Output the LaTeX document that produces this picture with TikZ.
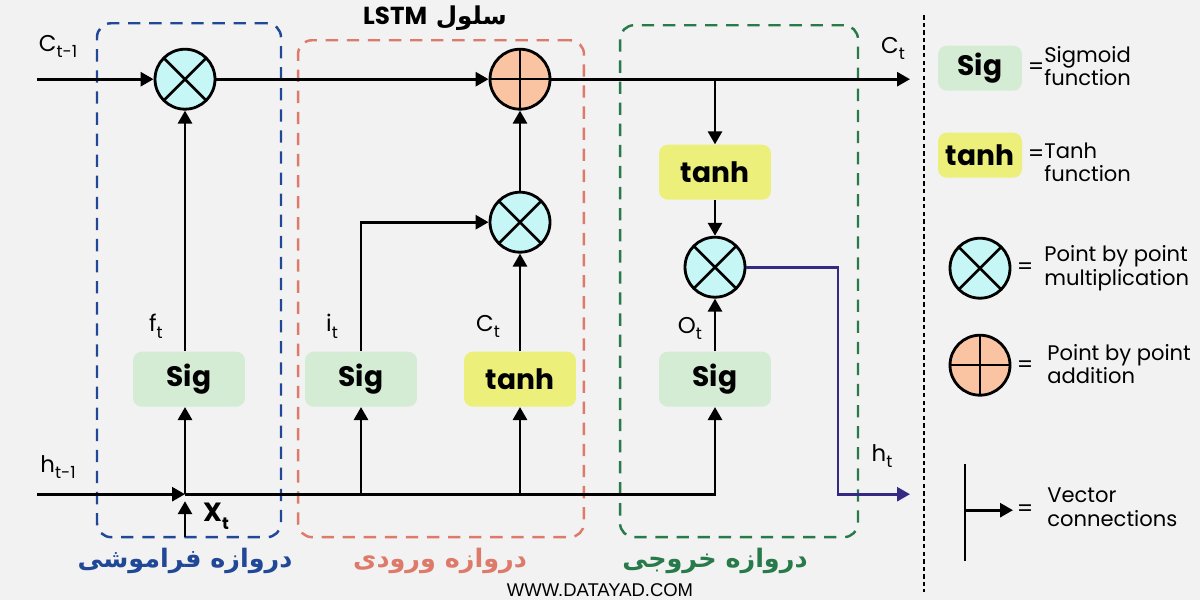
\documentclass[tikz,border=0pt]{standalone}
\usepackage{fontspec}
\setmainfont{Poppins}
\newfontfamily\fafont[Script=Arabic]{DejaVu Sans}
\newfontfamily\webfont{Liberation Sans}
\TeXXeTstate=1
\usetikzlibrary{arrows.meta}
\definecolor{bgray}{RGB}{242,242,242}
\definecolor{sigfill}{RGB}{212,236,212}
\definecolor{tanhfill}{RGB}{236,240,122}
\definecolor{mulfill}{RGB}{198,246,246}
\definecolor{addfill}{RGB}{250,196,162}
\definecolor{fblue}{RGB}{32,72,150}
\definecolor{isalmon}{RGB}{222,122,106}
\definecolor{ogreen}{RGB}{40,122,74}
\definecolor{hpurple}{RGB}{52,42,132}
\newcommand{\dn}[1]{\raisebox{-0.5ex}{\fontsize{9.5}{9.5}\selectfont #1}}

\begin{document}
\begin{tikzpicture}[
  x=0.02cm,y=-0.02cm,
  font=\fontsize{13}{14}\selectfont,
  sg/.style={rounded corners=5pt,fill=sigfill,minimum width=2.24cm,minimum height=1.1cm,font=\fontsize{16}{16}\selectfont\bfseries},
  th/.style={rounded corners=5pt,fill=tanhfill,minimum width=2.24cm,minimum height=1.1cm,font=\fontsize{16}{16}\selectfont\bfseries},
  mul/.style={circle,draw,line width=1.6pt,fill=mulfill,minimum size=1.2cm,inner sep=0pt,
    path picture={\draw[line width=1.5pt] (path picture bounding box.north west) -- (path picture bounding box.south east)
      (path picture bounding box.north east) -- (path picture bounding box.south west);}},
  add/.style={circle,draw,line width=1.6pt,fill=addfill,minimum size=1.2cm,inner sep=0pt,
    path picture={\draw[line width=1.2pt] (path picture bounding box.north) -- (path picture bounding box.south)
      (path picture bounding box.west) -- (path picture bounding box.east);}},
  gate/.style={draw,line width=1.4pt,rounded corners=8pt,dash pattern=on 7pt off 5pt},
  arr/.style={-{Triangle[length=2.6mm,width=2.8mm]},line width=1.6pt},
  ln/.style={line width=1.6pt},
  lbl/.style={inner sep=0pt},
  eq/.style={inner sep=0pt},
  gname/.style={font=\fafont\bfseries\fontsize{14.5}{14.5}\selectfont},
  leg/.style={anchor=west,align=left,inner sep=0pt,font=\fontsize{12}{13.5}\selectfont},
  ]
  \fill[bgray] (0,0) rectangle (1200,600);

  \node[gate,draw=fblue,minimum width=3.68cm,minimum height=10.28cm] (fgate) at (189,280) {};
  \node[gate,draw=isalmon,minimum width=5.72cm,minimum height=9.94cm] (igate) at (441,288.5) {};
  \node[gate,draw=ogreen,minimum width=4.76cm,minimum height=10.24cm] (ogate) at (739,281) {};

  \node[mul] (fmul) at (185,79) {};
  \node[add] (add)  at (520,79) {};
  \node[mul] (imul) at (520,222) {};
  \node[th]  (otanh) at (715,172) {tanh};
  \node[mul] (omul) at (715,267) {};
  \node[sg]  (fsig) at (189,379) {Sig};
  \node[sg]  (isig) at (361,379) {Sig};
  \node[th]  (itanh) at (520,379) {tanh};
  \node[sg]  (osig) at (715,379) {Sig};

  \coordinate (cin)   at (37,79);
  \coordinate (cout)  at (910,79);
  \coordinate (hin)   at (37,494);
  \coordinate (hj)    at (185,494);
  \coordinate (xin)   at (185,537);
  \coordinate (xtip)  at (185,501);
  \coordinate (hbend) at (838,494);
  \coordinate (hout)  at (910,494);

  \draw[arr] (cin) -- (fmul);
  \draw[arr] (fmul) -- (add);
  \draw[arr] (add) -- (cout);
  \draw[arr] (otanh |- add) -- (otanh);
  \draw[arr] (otanh) -- (omul);
  \draw[arr] (osig) -- (omul);
  \draw[arr,hpurple] (omul.east) -| (hbend) -- (hout);
  \draw[arr] (hin) -- (hj);
  \draw[arr] (xin) -- (xtip);
  \draw[arr] (hj) -- (hj |- fsig.south);
  \draw[arr] (hj) -| (osig);
  \draw[arr] (isig |- hj) -- (isig);
  \draw[arr] (itanh |- hj) -- (itanh);
  \draw[arr] (hj |- fsig.north) -- (fmul);
  \draw[arr] (isig) |- (imul);
  \draw[arr] (itanh) -- (imul);
  \draw[arr] (imul) -- (add);

  \node[lbl] (lcin)  at (58,46)   {C\dn{t-1}};
  \node[lbl] (lcout) at (893,48)  {C\dn{t}};
  \node[lbl] (lhin)  at (58,467)  {h\dn{t-1}};
  \node[lbl] (lhout) at (882,456) {h\dn{t}};
  \node[lbl] (lft)   at (156,326) {f\dn{t}};
  \node[lbl] (lit)   at (332,326) {i\dn{t}};
  \node[lbl] (lct)   at (488,326) {C\dn{t}};
  \node[lbl] (lot)   at (690,328) {O\dn{t}};
  \node[lbl,font=\fontsize{15}{15}\selectfont\bfseries] (lxt) at (216,516) {X\dn{t}};

  \node[font=\fafont\bfseries\fontsize{14}{14}\selectfont] (title) at (435,18)
    {\beginR سلول {\rmfamily LSTM}\endR};
  \node[gname,text=fblue]   (fname) at (185,561) {\beginR دروازه فراموشی\endR};
  \node[gname,text=isalmon] (iname) at (440,561) {\beginR دروازه ورودی\endR};
  \node[gname,text=ogreen]  (oname) at (715,561) {\beginR دروازه خروجی\endR};
  \node[font=\webfont\fontsize{10.5}{10.5}\selectfont] (web) at (600,590) {WWW.DATAYAD.COM};

  \coordinate (sept) at (924,15);
  \coordinate (sepb) at (924,592);
  \draw[line width=1.1pt,dash pattern=on 2.5pt off 1.8pt] (sept) -- (sepb);

  \node[sg,minimum width=1.68cm,minimum height=0.9cm] (lsig) at (980,68) {Sig};
  \node[eq] (leq1) at (1036,68) {=};
  \node[leg] (ltx1) at (1044,66) {Sigmoid\\function};
  \node[th,minimum width=1.68cm,minimum height=0.9cm] (ltanh) at (980,155) {tanh};
  \node[eq] (leq2) at (1036,155) {=};
  \node[leg] (ltx2) at (1044,162) {Tanh\\function};
  \node[mul] (lmul) at (980,268) {};
  \node[eq] (leq3) at (1025,268) {=};
  \node[leg] (ltx3) at (1044,268) {Point by point\\multiplication};
  \node[add] (ladd) at (980,365) {};
  \node[eq] (leq4) at (1025,366) {=};
  \node[leg] (ltx4) at (1047,364) {Point by point\\addition};
  \coordinate (vt) at (965,464);
  \coordinate (vb) at (965,561);
  \coordinate (vm) at (965,510);
  \coordinate (vtip) at (1013,510);
  \draw[ln] (vt) -- (vb);
  \draw[arr] (vm) -- (vtip);
  \node[eq] (leq5) at (1025,510) {=};
  \node[leg] (ltx5) at (1047,507) {Vector\\connections};
\end{tikzpicture}
\end{document}
